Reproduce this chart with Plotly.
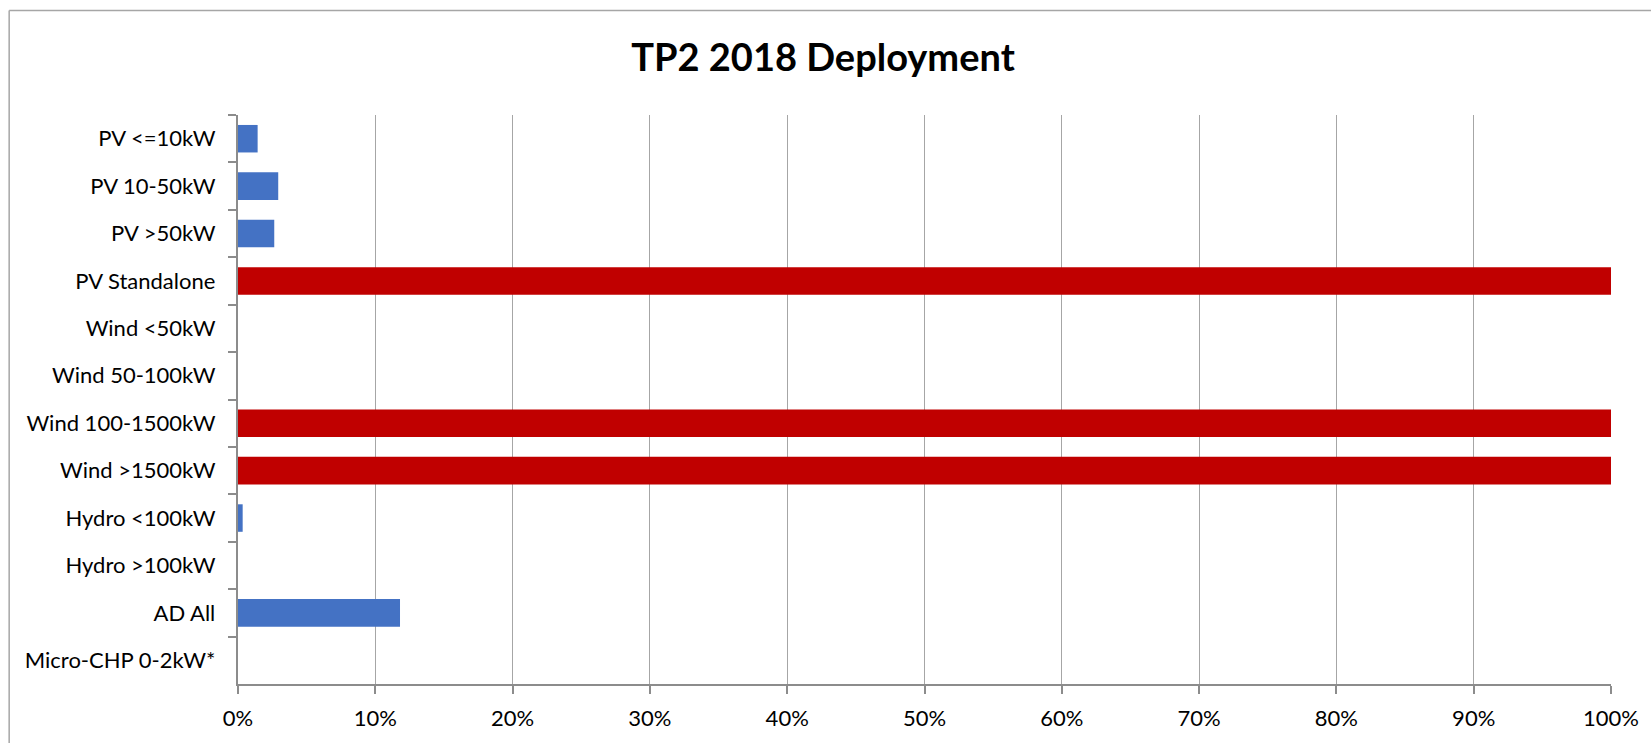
import plotly.graph_objects as go

categories = ["PV <=10kW", "PV 10-50kW", "PV >50kW", "PV Standalone", "Wind <50kW",
              "Wind 50-100kW", "Wind 100-1500kW", "Wind >1500kW", "Hydro <100kW",
              "Hydro >100kW", "AD All", "Micro-CHP 0-2kW*"]
deployment = [0.0143, 0.0293, 0.0264, 1.0, 0.0, 0.0, 1.0, 1.0, 0.0034, 0.0, 0.118, 0.0]
x_ticks = [0, 0.1, 0.2, 0.3, 0.4, 0.5, 0.6, 0.7, 0.8, 0.9, 1.0]
x_tick_labels = ["0%", "10%", "20%", "30%", "40%", "50%", "60%", "70%", "80%", "90%", "100%"]

BLUE = "#4472C4"
RED = "#C00000"
colors = [RED if v >= 1.0 else BLUE for v in deployment]

W, H = 1651, 743
L, R, T, B = 238, 1615, 115, 687
pw, ph = R - L, B - T

fig = go.Figure(go.Bar(
    x=deployment, y=categories, orientation="h",
    marker=dict(color=colors, line=dict(width=0)),
))

def px_x(p):
    return (p - L) / pw

def px_y(p):
    return (B - p) / ph

fig.update_layout(
    width=W, height=H,
    margin=dict(l=L, r=W - R, t=T, b=H - B),
    paper_bgcolor="white", plot_bgcolor="white",
    bargap=0.42,
    showlegend=False,
    font=dict(family="Lato, Carlito, sans-serif", size=22, color="#000000"),
    title=dict(text="<b>TP2 2018 Deployment</b>", x=823 / W, xanchor="center",
               y=1 - 58 / H, yanchor="middle",
               font=dict(family="Lato, sans-serif", size=38, color="#000000")),
    xaxis=dict(range=[0, 1], tickvals=x_ticks, ticktext=x_tick_labels,
               showgrid=True, gridcolor="#A6A6A6", gridwidth=1.3,
               showline=True, linecolor="#8C8C8C", linewidth=2,
               ticks="outside", ticklen=8, tickcolor="#8C8C8C", tickwidth=1.5,
               tickfont=dict(size=22), ticklabelstandoff=6,
               zeroline=False, fixedrange=True),
    yaxis=dict(autorange="reversed", showgrid=False,
               showline=True, linecolor="#8C8C8C", linewidth=2,
               ticks="outside", ticklen=8, tickcolor="#8C8C8C", tickwidth=1.5,
               tickson="boundaries", tickfont=dict(size=22), ticksuffix="  ",
               ticklabelstandoff=5, fixedrange=True),
    shapes=[
        dict(type="line", xref="paper", yref="paper",
             x0=px_x(8.5), x1=px_x(8.5), y0=px_y(10), y1=px_y(760),
             line=dict(color="#A6A6A6", width=1.5)),
        dict(type="line", xref="paper", yref="paper",
             x0=px_x(8.5), x1=px_x(1670), y0=px_y(10), y1=px_y(10),
             line=dict(color="#A6A6A6", width=1.5)),
    ],
)

fig.write_html(
    "out.html",
    config={"displayModeBar": False},
    post_script="document.body.style.margin='0';document.body.style.overflow='hidden';",
)
